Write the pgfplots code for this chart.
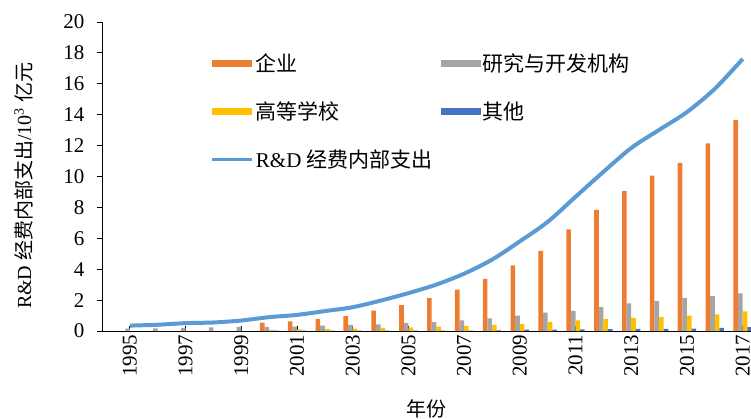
\documentclass[border=0pt]{standalone}
\usepackage{fontspec}
\setmainfont{Liberation Serif}
\newfontfamily\cjk{Noto Sans CJK SC}
\usepackage{pgfplots}
\usepackage{pgfplotstable}
\pgfplotsset{compat=1.18}

\definecolor{qiye}{HTML}{ED7D31}
\definecolor{yanjiu}{HTML}{A5A5A5}
\definecolor{gaoxiao}{HTML}{FFC000}
\definecolor{qita}{HTML}{4472C4}
\definecolor{zong}{HTML}{5B9BD5}

% R&D expenditure, 10^3 yuan-yi units
\pgfplotstableread{
year qiye   yanjiu gaoxiao qita  total
1995 nan    0.146  nan     nan   0.349
1996 nan    0.173  nan     nan   0.405
1997 nan    0.206  nan     nan   0.509
1998 nan    0.234  nan     nan   0.551
1999 nan    0.261  nan     nan   0.679
2000 0.537  0.258  0.077   0.024 0.896
2001 0.630  0.289  0.102   0.022 1.043
2002 0.788  0.351  0.131   0.018 1.288
2003 0.960  0.399  0.162   0.018 1.540
2004 1.314  0.432  0.201   0.020 1.966
2005 1.674  0.513  0.242   0.021 2.450
2006 2.135  0.567  0.277   0.025 3.003
2007 2.682  0.688  0.315   0.026 3.710
2008 3.382  0.811  0.390   0.033 4.616
2009 4.249  0.996  0.468   0.089 5.802
2010 5.186  1.186  0.597   0.093 7.063
2011 6.579  1.307  0.689   0.112 8.687
2012 7.842  1.549  0.781   0.127 10.298
2013 9.076  1.781  0.857   0.133 11.847
2014 10.061 1.926  0.898   0.131 13.016
2015 10.881 2.137  0.999   0.154 14.170
2016 12.144 2.260  1.072   0.200 15.677
2017 13.660 2.436  1.266   0.244 17.606
}\rdtable

\begin{document}
\begin{tikzpicture}
\begin{axis}[
    name=ax,
    scale only axis,
    width=649pt, height=309pt,
    xmin=1994, xmax=2017.3,
    ymin=0, ymax=20,
    axis x line=bottom, axis y line=left,
    axis line style={black, line width=0.8pt, -},
    xtick={1995,1997,...,2017},
    x tick label style={rotate=90, anchor=east},
    xticklabel={\pgfmathprintnumber[1000 sep={}]{\tick}},
    ytick={0,2,...,20},
    y tick label style={xshift=-9pt},
    x tick style={black, line width=0.8pt},
    y tick style={black, line width=0.8pt},
    xtick align=inside, ytick align=outside,
    major tick length=5pt,
    tick label style={font=\fontsize{21}{24}\selectfont},
    /pgf/number format/assume math mode=true,
    xlabel={\cjk 年份},
    ylabel={R\&D {\cjk 经费内部支出}/10\textsuperscript{3} {\cjk 亿元}},
    label style={font=\fontsize{20}{24}\selectfont},
    xlabel style={at={(axis description cs:0.5,0)}, anchor=center, yshift=-78pt},
    ylabel style={at={(axis description cs:-0.121,0.47)}, anchor=center},
    bar width=4.6pt,
    legend columns=2,
    legend cell align=left,
    legend style={draw=none, fill=none, at={(0.163,0.912)}, anchor=north west,
        font=\fontsize{21}{24}\selectfont, row sep=25pt,
        /tikz/every even column/.append style={column sep=0pt}},
]
\addplot[ybar, fill=qiye, draw=none, bar shift=-6.9pt,
    legend image code/.code={\fill[qiye] (0pt,-3.5pt) rectangle (40pt,3.5pt);}]
    table[x=year, y=qiye] {\rdtable};
\addlegendentry{\makebox[183pt][l]{\cjk 企业}}
\addplot[ybar, fill=yanjiu, draw=none, bar shift=-2.3pt,
    legend image code/.code={\fill[yanjiu] (0pt,-3.5pt) rectangle (40pt,3.5pt);}]
    table[x=year, y=yanjiu] {\rdtable};
\addlegendentry{\cjk 研究与开发机构}
\addplot[ybar, fill=gaoxiao, draw=none, bar shift=2.3pt,
    legend image code/.code={\fill[gaoxiao] (0pt,-3.5pt) rectangle (40pt,3.5pt);}]
    table[x=year, y=gaoxiao] {\rdtable};
\addlegendentry{\makebox[183pt][l]{\cjk 高等学校}}
\addplot[ybar, fill=qita, draw=none, bar shift=6.9pt,
    legend image code/.code={\fill[qita] (0pt,-3.5pt) rectangle (40pt,3.5pt);}]
    table[x=year, y=qita] {\rdtable};
\addlegendentry{\cjk 其他}
\addplot[zong, line width=4pt, smooth, no marks,
    legend image code/.code={\draw[zong, line width=3pt] (0pt,0pt) -- (40pt,0pt);}]
    table[x=year, y=total] {\rdtable};
\addlegendentry{R\&D {\cjk 经费内部支出}}
\end{axis}
\pgfresetboundingbox
\path[use as bounding box] ([xshift=-102pt,yshift=-87pt]ax.south west) rectangle ([yshift=22pt]ax.north east);
\end{tikzpicture}
\end{document}
